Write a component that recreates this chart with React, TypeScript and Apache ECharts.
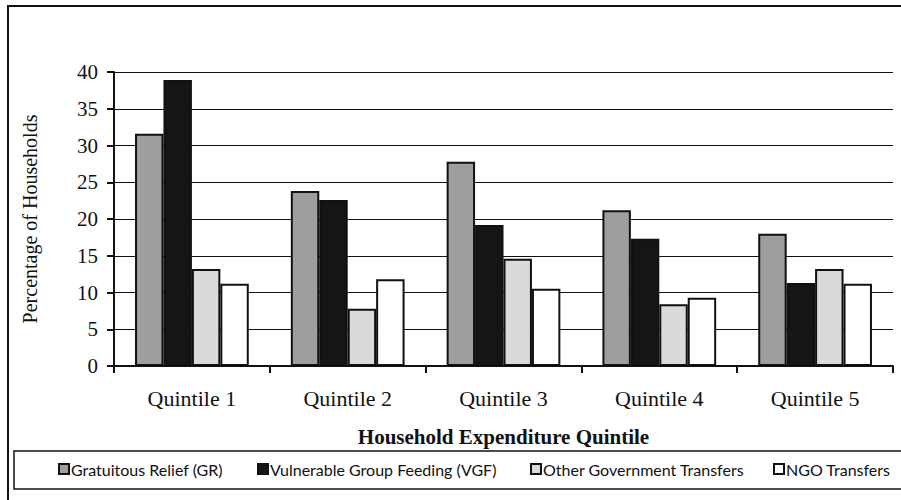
import React, { useEffect, useRef } from "react";
import * as echarts from "echarts";

const categories = ["Quintile 1", "Quintile 2", "Quintile 3", "Quintile 4", "Quintile 5"];
const seriesNames = [
  "Gratuitous Relief (GR)",
  "Vulnerable Group Feeding (VGF)",
  "Other Government Transfers",
  "NGO Transfers",
];
const grValues = [31.6, 23.8, 27.8, 21.2, 18.0];
const vgfValues = [38.9, 22.6, 19.2, 17.3, 11.3];
const ogtValues = [13.2, 7.8, 14.6, 8.4, 13.2];
const ngoValues = [11.2, 11.8, 10.5, 9.3, 11.2];
const yTicks = [0, 5, 10, 15, 20, 25, 30, 35, 40];

const fills = ["#9e9e9e", "#151515", "#dadada", "#ffffff"];
const legendLeft = [58, 257, 530, 773];

const serif = "'Liberation Serif', 'Times New Roman', serif";
const sans = "Lato, 'Noto Sans', sans-serif";

export default function App() {
  const ref = useRef<HTMLDivElement>(null);
  useEffect(() => {
    if (!ref.current) return;
    const chart = echarts.init(ref.current, null, { renderer: "svg" });
    const values = [grValues, vgfValues, ogtValues, ngoValues];
    chart.setOption({
      animation: false,
      backgroundColor: "#ffffff",
      grid: { left: 114, right: 8, top: 72, bottom: 134 },
      legend: seriesNames.map((n, i) => ({
        data: [n],
        left: legendLeft[i],
        top: 461,
        icon: "rect",
        itemWidth: 10,
        itemHeight: 10,
        itemGap: 0,
        padding: 0,
        selectedMode: false,
        textStyle: { fontFamily: sans, fontSize: 16, color: "#111", padding: [0, 0, 0, -3] },
      })),
      xAxis: {
        type: "category",
        data: categories,
        name: "Household Expenditure Quintile",
        nameLocation: "middle",
        nameGap: 60,
        nameTextStyle: { fontFamily: serif, fontSize: 21, fontWeight: "bold", color: "#111", verticalAlign: "top" },
        axisLine: { lineStyle: { color: "#111", width: 2 } },
        axisTick: { show: true, length: 7, lineStyle: { color: "#111", width: 2 } },
        axisLabel: { fontFamily: serif, fontSize: 22, color: "#111", margin: 21 },
      },
      yAxis: {
        type: "value",
        min: 0,
        max: 40,
        interval: 5,
        name: "Percentage of Households",
        nameLocation: "middle",
        nameGap: 74,
        nameTextStyle: { fontFamily: serif, fontSize: 20, color: "#111" },
        axisLine: { show: true, lineStyle: { color: "#111", width: 2 } },
        axisTick: { show: true, inside: false, length: 7, lineStyle: { color: "#111", width: 2 } },
        axisLabel: {
          fontFamily: serif,
          fontSize: 21,
          color: "#111",
          margin: 16,
          formatter: (v: number) => (yTicks.includes(v) ? String(v) : ""),
        },
        splitLine: { show: true, lineStyle: { color: "#111", width: 1.2 } },
      },
      series: seriesNames.map((n, i) => ({
        name: n,
        type: "bar",
        data: values[i],
        barGap: "0%",
        barCategoryGap: "27%",
        itemStyle: { color: fills[i], borderColor: "#111", borderWidth: 2 },
      })),
      graphic: [
        {
          type: "rect",
          shape: { x: 8, y: 6, width: 1000, height: 1000 },
          style: { fill: "none", stroke: "#111", lineWidth: 2 },
          silent: true,
        },
        {
          type: "rect",
          shape: { x: 14, y: 451, width: 1000, height: 38 },
          style: { fill: "none", stroke: "#111", lineWidth: 1.5 },
          silent: true,
        },
      ],
    });
    return () => chart.dispose();
  }, []);
  return <div ref={ref} style={{ width: 901, height: 500, position: "absolute", left: 0, top: 0 }} />;
}
